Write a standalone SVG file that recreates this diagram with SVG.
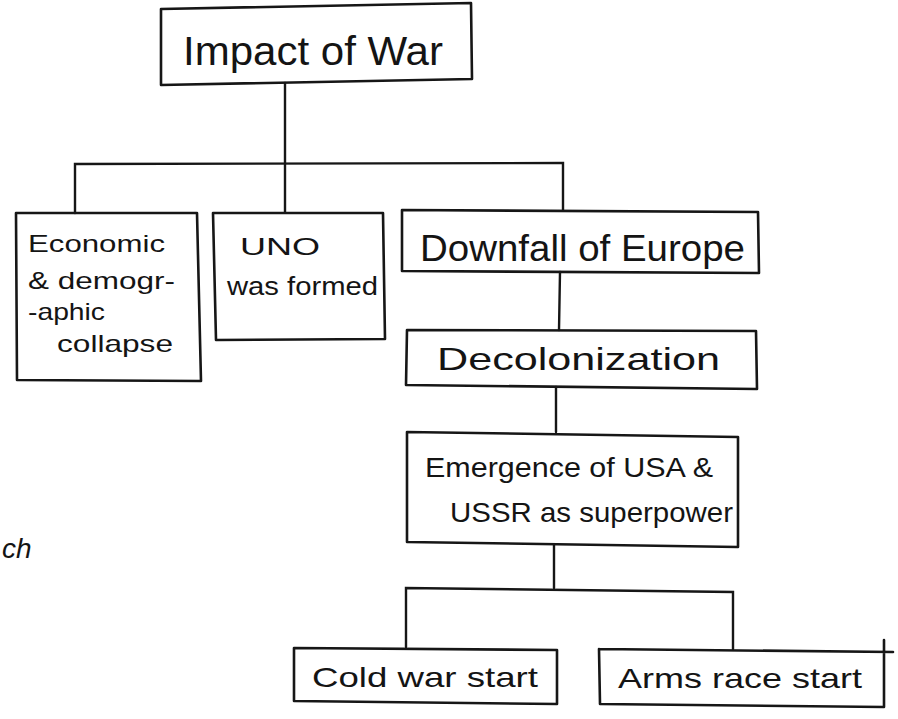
<svg xmlns="http://www.w3.org/2000/svg" width="898" height="719" viewBox="0 0 898 719">
<style>
.box{fill:none;stroke:#161616;stroke-width:2.6;stroke-linejoin:round;stroke-linecap:round}
.ln{fill:none;stroke:#161616;stroke-width:2.4;stroke-linecap:round}
text{font-family:"Liberation Sans","DejaVu Sans",sans-serif;fill:#141414}
</style>
<rect width="898" height="719" fill="#ffffff"/>
<g id="connectors">
<path class="ln" d="M285 83 L285 212"/>
<path class="ln" d="M75 213 L75 164 L563 163 L563 210"/>
<path class="ln" d="M560 272 L559 330"/>
<path class="ln" d="M556 387 L556 432"/>
<path class="ln" d="M554 545 L554 588"/>
<path class="ln" d="M406 647 L406 588 L733 592 L733 649"/>
</g>
<g id="n_impact">
<path class="box" d="M161 9 L471 3 L472 79 L161 85 Z"/>
<text x="183" y="65" font-size="40" textLength="260" lengthAdjust="spacingAndGlyphs">Impact of War</text>
</g>
<g id="n_economic">
<path class="box" d="M16 213 L197 213 L201 381 L17 380 Z"/>
<text x="28" y="252" font-size="24" textLength="137" lengthAdjust="spacingAndGlyphs">Economic</text>
<text x="28" y="289" font-size="24" textLength="147" lengthAdjust="spacingAndGlyphs">&amp; demogr-</text>
<text x="28" y="320" font-size="24" textLength="77" lengthAdjust="spacingAndGlyphs">-aphic</text>
<text x="57" y="352" font-size="24" textLength="116" lengthAdjust="spacingAndGlyphs">collapse</text>
</g>
<g id="n_uno">
<path class="box" d="M213 213 L383 213 L385 339 L216 340 Z"/>
<text x="240" y="255" font-size="24" textLength="80" lengthAdjust="spacingAndGlyphs">UNO</text>
<text x="227" y="295" font-size="26" textLength="151" lengthAdjust="spacingAndGlyphs">was formed</text>
</g>
<g id="n_downfall">
<path class="box" d="M402 210 L758 212 L759 273 L402 271 Z"/>
<text x="420" y="261" font-size="36" textLength="325" lengthAdjust="spacingAndGlyphs">Downfall of Europe</text>
</g>
<g id="n_decolonization">
<path class="box" d="M407 330 L756 331 L757 389 L406 385 Z"/>
<text x="437" y="370" font-size="32" textLength="283" lengthAdjust="spacingAndGlyphs">Decolonization</text>
</g>
<g id="n_emergence">
<path class="box" d="M407 432 L738 437 L738 547 L407 542 Z"/>
<text x="425" y="477" font-size="28" textLength="288" lengthAdjust="spacingAndGlyphs">Emergence of USA &amp;</text>
<text x="450" y="522" font-size="28" textLength="283" lengthAdjust="spacingAndGlyphs">USSR as superpower</text>
</g>
<g id="n_coldwar">
<path class="box" d="M294 648 L557 650 L557 704 L294 701 Z"/>
<text x="312" y="687" font-size="28" textLength="226" lengthAdjust="spacingAndGlyphs">Cold war start</text>
</g>
<g id="n_armsrace">
<path class="box" d="M599 649 L893 652 M884 640 L884 707 L600 704 L599 649"/>
<text x="618" y="688" font-size="28" textLength="244" lengthAdjust="spacingAndGlyphs">Arms race start</text>
</g>
<text x="2" y="558" font-size="28" font-style="italic">ch</text>
</svg>
